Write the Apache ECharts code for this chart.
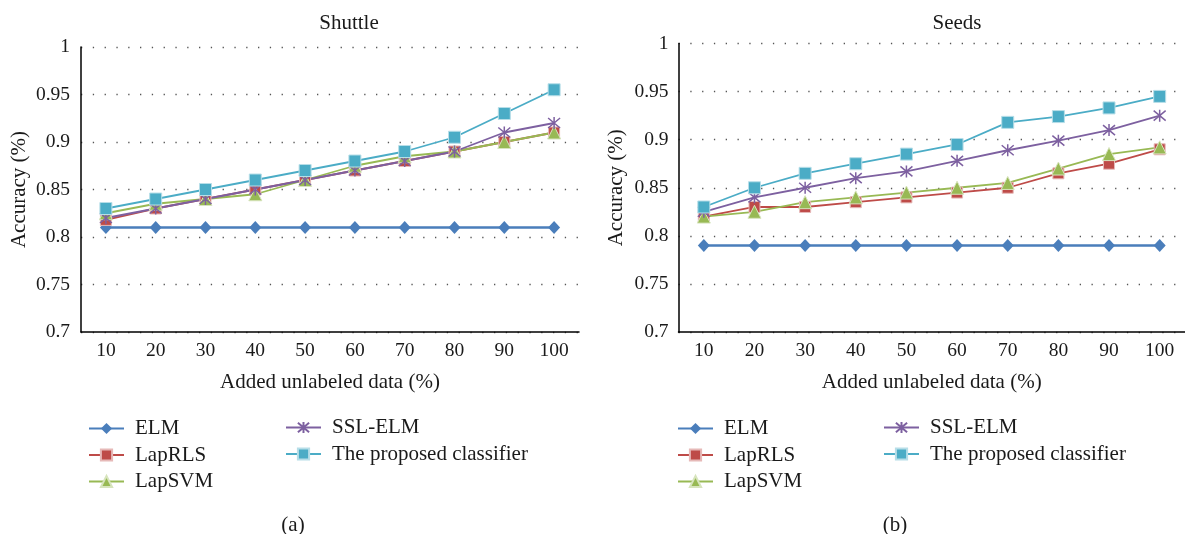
<!DOCTYPE html>
<html>
<head>
<meta charset="utf-8">
<script src="https://cdn.jsdelivr.net/npm/echarts@6/dist/echarts.min.js"></script>
<style>
html,body{margin:0;padding:0;background:#fff;}
#chart{width:1185px;height:534px;}
</style>
</head>
<body>
<div id="chart"></div>
<script>
// ---- data ----
const categories = ['10','20','30','40','50','60','70','80','90','100'];
const seriesNames = ['ELM','LapRLS','LapSVM','SSL-ELM','The proposed classifier'];

const shuttleELM      = [0.81,0.81,0.81,0.81,0.81,0.81,0.81,0.81,0.81,0.81];
const shuttleLapRLS   = [0.818,0.83,0.84,0.85,0.86,0.87,0.88,0.89,0.90,0.91];
const shuttleLapSVM   = [0.825,0.835,0.84,0.845,0.86,0.875,0.885,0.89,0.90,0.91];
const shuttleSSLELM   = [0.82,0.83,0.84,0.85,0.86,0.87,0.88,0.89,0.91,0.92];
const shuttleProposed = [0.83,0.84,0.85,0.86,0.87,0.88,0.89,0.905,0.93,0.955];

const seedsELM      = [0.79,0.79,0.79,0.79,0.79,0.79,0.79,0.79,0.79,0.79];
const seedsLapRLS   = [0.82,0.83,0.83,0.835,0.84,0.845,0.85,0.865,0.875,0.89];
const seedsLapSVM   = [0.82,0.825,0.835,0.84,0.845,0.85,0.855,0.87,0.885,0.892];
const seedsSSLELM   = [0.825,0.84,0.85,0.86,0.867,0.878,0.889,0.899,0.91,0.925];
const seedsProposed = [0.83,0.85,0.865,0.875,0.885,0.895,0.918,0.924,0.933,0.945];

const yMin = 0.7, yMax = 1, yStep = 0.05;

// ---- styles ----
const FONT = '"Liberation Serif", "DejaVu Serif", serif';
const asterisk = 'path://M0,0L10,10M10,0L0,10M5,-1L5,11';
const styles = {
  'ELM': {color:'#4a7ebb', symbol:'diamond', size:[12,13], border:'#4a7ebb', bw:0, lw:2.5},
  'LapRLS': {color:'#be4b48', symbol:'rect', size:11, border:'#e6b9b8', bw:1, lw:1.8},
  'LapSVM': {color:'#98b954', symbol:'triangle', size:13, border:'#d7e4bd', bw:1, lw:1.8},
  'SSL-ELM': {color:'#7d60a0', symbol:asterisk, size:12, border:'#7d60a0', bw:1.5, lw:1.8},
  'The proposed classifier': {color:'#4bacc6', symbol:'rect', size:12, border:'#b7dee8', bw:1, lw:1.8}
};

function mk(name, data, idx){
  const s = styles[name];
  return {
    name: name, type:'line', xAxisIndex: idx, yAxisIndex: idx,
    data: data, symbol: s.symbol, symbolSize: s.size,
    lineStyle: {color: s.color, width: s.lw},
    itemStyle: {color: s.color, borderColor: s.border, borderWidth: s.bw, opacity:1},
    emphasis: {disabled:true}, animation:false
  };
}

const shuttle = [shuttleELM, shuttleLapRLS, shuttleLapSVM, shuttleSSLELM, shuttleProposed];
const seeds = [seedsELM, seedsLapRLS, seedsLapSVM, seedsSSLELM, seedsProposed];
const series = [];
seriesNames.forEach((n,i)=>series.push(mk(n, shuttle[i], 0)));
seriesNames.forEach((n,i)=>series.push(mk(n, seeds[i], 1)));

function xAx(idx){
  return {
    type:'category', gridIndex: idx, data: categories, boundaryGap:true,
    axisLine:{show:true, onZero:false, lineStyle:{color:'#000', width:1.5}},
    axisTick:{show:false},
    axisLabel:{color:'#1a1a1a', fontFamily:FONT, fontSize:19.5, margin:9},
    name:'Added unlabeled data (%)', nameLocation:'middle', nameGap:40,
    nameTextStyle:{color:'#1a1a1a', fontFamily:FONT, fontSize:21}
  };
}
function yAx(idx){
  return {
    type:'value', gridIndex: idx, min:yMin, max:yMax, interval:yStep,
    axisLine:{show:true, lineStyle:{color:'#000', width:1.5}},
    axisTick:{show:false},
    splitLine:{show:true, lineStyle:{color:'#555', width:1.3, type:[1.3,10.5]}},
    axisLabel:{color:'#1a1a1a', fontFamily:FONT, fontSize:19.5, margin:idx===0?11:10},
    name:'Accuracy (%)', nameLocation:'middle', nameGap: idx===0?51:52,
    nameTextStyle:{color:'#1a1a1a', fontFamily:FONT, fontSize:21}
  };
}
function lg(left, top, names){
  return {
    left:left, top:top, orient:'vertical', padding:0,
    itemWidth:35, itemHeight:14, itemGap:5.5,
    data:names, selectedMode:false,
    textStyle:{color:'#1a1a1a', fontFamily:FONT, fontSize:21, lineHeight:18, padding:[0,0,0,6]}
  };
}

const TS = {fontFamily:FONT, fontSize:21, fontWeight:'normal', color:'#1a1a1a'};
const chart = echarts.init(document.getElementById('chart'));
chart.setOption({
  backgroundColor:'#fff',
  animation:false,
  title:[
    {text:'Shuttle', left:344, top:8, textAlign:'center', textStyle:TS},
    {text:'Seeds', left:952, top:8, textAlign:'center', textStyle:TS},
    {text:'(a)', left:288, top:510, textAlign:'center', textStyle:TS},
    {text:'(b)', left:890, top:510, textAlign:'center', textStyle:TS}
  ],
  grid:[
    {left:81, top:47, width:498, height:285},
    {left:678.5, top:43.5, width:508, height:288.5}
  ],
  xAxis:[xAx(0), xAx(1)],
  yAxis:[yAx(0), yAx(1)],
  legend:[
    lg(88, 418, ['ELM','LapRLS','LapSVM']),
    lg(285, 417, ['SSL-ELM','The proposed classifier']),
    lg(677, 418, ['ELM','LapRLS','LapSVM']),
    lg(883, 417, ['SSL-ELM','The proposed classifier'])
  ],
  series: series
});
</script>
</body>
</html>
